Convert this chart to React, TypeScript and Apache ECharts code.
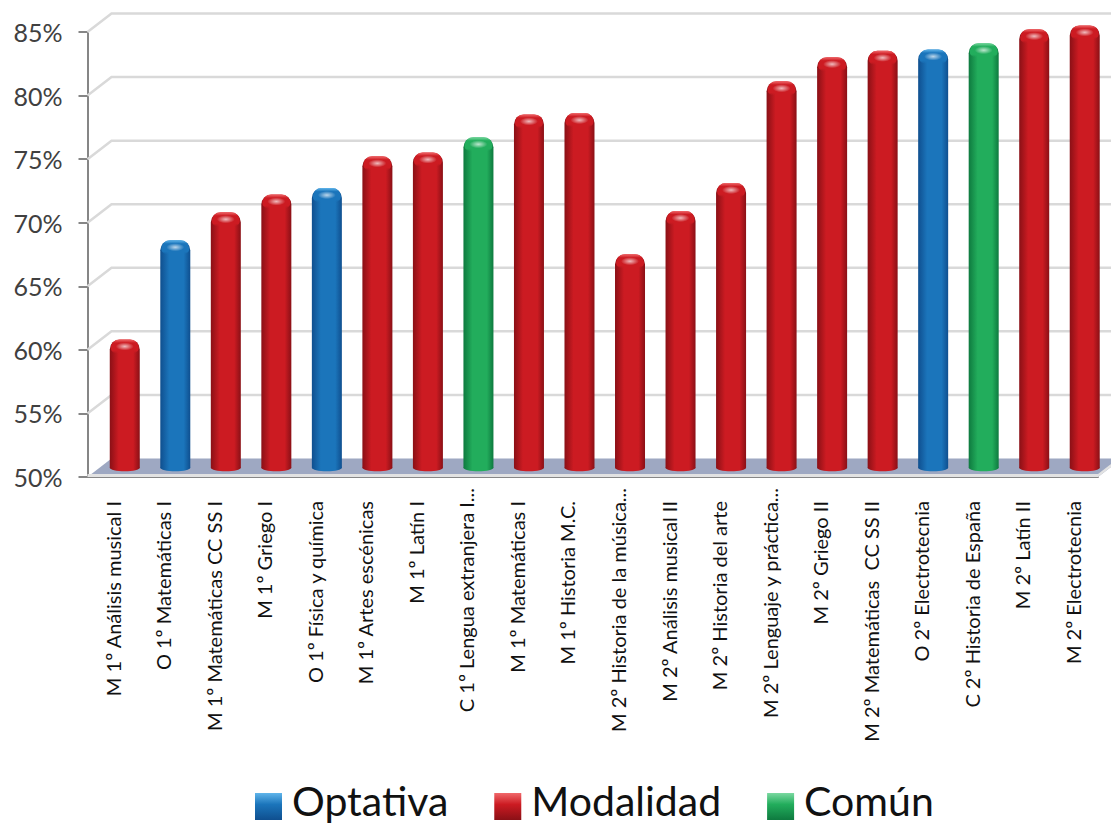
import React, { useEffect, useRef } from "react";
import * as echarts from "echarts";

const categories = [
  "M 1º Análisis musical I", "O 1º Matemáticas I", "M 1º Matemáticas CC SS I", "M 1º Griego I",
  "O 1º Física y química", "M 1º Artes escénicas", "M 1º Latín I", "C 1º Lengua extranjera I...",
  "M 1º Matemáticas I", "M 1º Historia M.C.", "M 2º Historia de la música...", "M 2º Análisis musical II",
  "M 2º Historia del arte", "M 2º Lenguaje y práctica...", "M 2º Griego II", "M 2º Matemáticas  CC SS II",
  "O 2º Electrotecnia", "C 2º Historia de España", "M 2º Latín II", "M 2º Electrotecnia",
];
const values = [59.7, 67.5, 69.7, 71.1, 71.6, 74.1, 74.4, 75.6, 77.4, 77.5, 66.4, 69.8, 72.0, 80.0, 81.9, 82.4, 82.5, 83.0, 84.1, 84.4];
const kinds = ["M", "O", "M", "M", "O", "M", "M", "C", "M", "M", "M", "M", "M", "M", "M", "M", "O", "C", "M", "M"];
const groups = [
  { key: "O", name: "Optativa", dark: "#0f4f8f", mid: "#1b75bb", light: "#5fb4ea" },
  { key: "M", name: "Modalidad", dark: "#8a1016", mid: "#cc1b22", light: "#f0686a" },
  { key: "C", name: "Común", dark: "#0e7a3f", mid: "#22ad5c", light: "#7ad8a0" },
];
const yTicks = [55, 60, 65, 70, 75, 80, 85];

const DX = 24, DY = 18.5;
const FONT = "Lato";
// Legend swatch: a degenerate first subpath widens the icon's box upward, so the square sits lower than the text's centre.
const LEGEND_ICON = "path://M0 0L27 0L27 0L0 0ZM0 12L27 12L27 39L0 39Z";

const hGrad = (g: any) => new echarts.graphic.LinearGradient(0, 0, 1, 0, [
  { offset: 0, color: g.dark },
  { offset: 0.3, color: g.mid },
  { offset: 0.78, color: g.mid },
  { offset: 1, color: g.dark },
]);

const barItem = (g: any) => (params: any, api: any) => {
  const i = api.value(0), v = api.value(1);
  const [cx0, y0] = api.coord([i, v]);
  const base = api.coord([i, 50])[1] - DY / 2;
  const cx = cx0 + DX / 2, yt = y0 - DY / 2, r = 15;
  const top = yt - 5;
  const fill = hGrad(g);
  return {
    type: "group",
    children: [
      { type: "ellipse", shape: { cx, cy: base, rx: r, ry: 3.5 }, style: { fill } },
      { type: "rect", shape: { x: cx - r, y: top, width: 2 * r, height: base - top, r: [10, 10, 0, 0] }, style: { fill } },
      {
        type: "rect", shape: { x: cx - r + 1, y: top, width: 2 * r - 2, height: 14, r: [9, 9, 6, 6] },
        style: {
          fill: new echarts.graphic.LinearGradient(0, 0, 0, 1, [
            { offset: 0, color: g.light },
            { offset: 0.25, color: g.mid },
            { offset: 0.8, color: g.mid },
            { offset: 1, color: g.mid + "00" },
          ]),
        },
      },
      {
        type: "ellipse", shape: { cx, cy: top + 7, rx: 9, ry: 4 },
        style: {
          fill: new echarts.graphic.RadialGradient(0.5, 0.5, 0.5, [
            { offset: 0, color: "rgba(255,255,255,0.7)" },
            { offset: 1, color: "rgba(255,255,255,0)" },
          ]),
        },
      },
    ],
  };
};

const gridItem = (params: any, api: any) => {
  const [, y] = api.coord([0, api.value(0)]);
  const x0 = params.coordSys.x, x1 = params.coordSys.x + params.coordSys.width;
  return {
    type: "polyline",
    shape: { points: [[x0, y], [x0 + DX, y - DY], [x1 + DX, y - DY]] },
    style: { fill: "none", stroke: "#d9d9d9", lineWidth: 2.5 },
  };
};

const floorItem = (params: any, api: any) => {
  const [, y] = api.coord([0, api.value(0)]);
  const x0 = params.coordSys.x, x1 = params.coordSys.x + params.coordSys.width;
  return {
    type: "group",
    children: [
      { type: "polygon", shape: { points: [[x0, y], [x0 + DX, y - DY], [x1 + DX, y - DY], [x1, y]] }, style: { fill: "#9ea8c2" } },
      { type: "polygon", shape: { points: [[x0, y - 3], [x1, y - 3], [x1 + DX, y - DY - 3], [x1 + DX, y - DY], [x1, y], [x0, y]] }, style: { fill: "#e2e2e2" } },
    ],
  };
};

const labelStyle = { fontFamily: FONT, fontSize: 20, color: "#111" };

export default function App() {
  const ref = useRef<HTMLDivElement>(null);
  useEffect(() => {
    document.body.style.margin = "0";
    const chart = echarts.init(ref.current!, undefined, { renderer: "svg" });
    chart.setOption({
      animation: false,
      backgroundColor: "#fff",
      grid: { left: 87.5, top: 32, width: 1010.5, height: 445 },
      legend: {
        left: 255, top: 780, padding: 0, itemWidth: 27, itemHeight: 39, itemGap: 46, selectedMode: false,
        textStyle: { fontFamily: FONT, fontSize: 41, lineHeight: 32, color: "#111", padding: [0, 0, 0, 5] },
        data: groups.map((g) => ({
          name: g.name, icon: LEGEND_ICON,
          itemStyle: {
            color: new echarts.graphic.LinearGradient(0, 0, 0, 1, [
              { offset: 0.31, color: g.light },
              { offset: 0.6, color: g.mid },
              { offset: 1, color: g.dark },
            ]),
            borderWidth: 0,
          },
        })),
      },
      xAxis: {
        type: "category", data: categories,
        axisLine: { lineStyle: { color: "#868686", width: 2 } },
        axisTick: { length: 8, lineStyle: { color: "#868686", width: 2 }, alignWithLabel: false },
        axisLabel: {
          interval: 0, rotate: 90, margin: 11, ...labelStyle,
          formatter: (name: string) => (name.endsWith("...") ? `{e|${name}}` : `{n|${name}}`),
          rich: { e: { ...labelStyle }, n: { ...labelStyle, padding: [0, 13, 0, 0] } },
        },
      },
      yAxis: {
        type: "value", min: 50, max: 85, interval: 5,
        splitLine: { show: false },
        axisLine: { show: true, lineStyle: { color: "#868686", width: 2 } },
        axisTick: { show: true, length: 9, lineStyle: { color: "#868686", width: 2 } },
        axisLabel: { margin: 25, fontFamily: FONT, fontSize: 25, color: "#404040", formatter: "{value}%" },
      },
      series: [
        { type: "custom", name: "grid", z: 1, silent: true, renderItem: gridItem, data: yTicks.map((t) => [t]), encode: { y: 0 } },
        { type: "custom", name: "floor", z: 1, silent: true, renderItem: floorItem, data: [[50]], encode: { y: 0 } },
        ...groups.map((g) => ({
          type: "custom", name: g.name, z: 3, renderItem: barItem(g),
          itemStyle: { color: g.mid },
          encode: { x: 0, y: 1 },
          data: values.map((v, i) => (kinds[i] === g.key ? [i, v] : null)).filter(Boolean),
        })),
      ],
    });
    return () => chart.dispose();
  }, []);
  return <div ref={ref} style={{ width: 1111, height: 825 }} />;
}
